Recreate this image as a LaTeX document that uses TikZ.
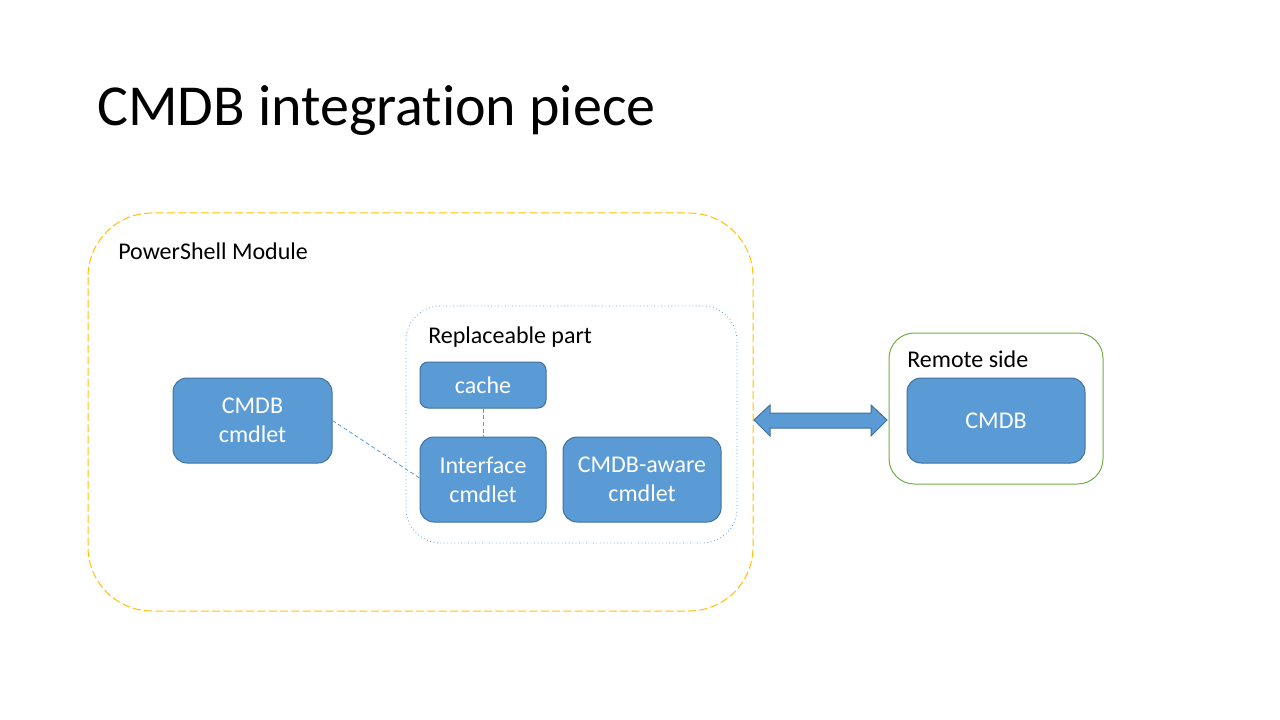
\documentclass[tikz,border=0pt]{standalone}
\usepackage{fontspec}
\setmainfont{Carlito}[Ligatures=NoCommon]
\definecolor{boxblue}{HTML}{5B9BD5}
\definecolor{boxedge}{HTML}{41719C}
\definecolor{gold}{HTML}{FFC000}
\definecolor{leafgreen}{HTML}{70AD47}
\tikzset{
  bluebox/.style={draw=boxedge, fill=boxblue, line width=0.75pt, rounded corners=#1,
    text=white, align=center, inner sep=0pt, font=\fontsize{18pt}{21.6pt}\selectfont},
  bluebox/.default=10.5pt,
  lbl/.style={anchor=base west, inner sep=0pt, font=\fontsize{18pt}{21.6pt}\selectfont},
  link/.style={draw=boxblue, dash pattern=on 3pt off 2pt, line width=0.6pt},
}
\begin{document}
\begin{tikzpicture}[x=0.75pt,y=-0.75pt]
\useasboundingbox (0,0) rectangle (1280,720);
% title
\node[anchor=base west, inner sep=0pt, font=\fontsize{43.5pt}{52pt}\selectfont] (title) at (97,126) {CMDB integration piece};
% outer module
\draw[gold, dash pattern=on 6pt off 2.5pt, line width=0.75pt, rounded corners=48pt] (88,213) rectangle (753,611);
\node[lbl] (mod) at (118,259) {PowerShell Module};
% replaceable part
\draw[boxblue, dotted, line width=0.6pt, rounded corners=26pt] (406,306) rectangle (737,543);
\node[lbl] (repl) at (428,343) {Replaceable part};
% remote side
\draw[leafgreen, line width=0.75pt, rounded corners=19pt] (889,333) rectangle (1103,484);
\node[lbl] (rem) at (907,367) {Remote side};
% blue boxes
\node[bluebox, minimum width=119.25pt, minimum height=63.75pt] (cmdbc) at (252.5,420.5) {CMDB\\cmdlet};
\node[bluebox=6pt, minimum width=94.5pt, minimum height=34.5pt] (cache) at (483,385) {cache};
\node[bluebox, minimum width=94.5pt, minimum height=63.75pt] (iface) at (483,479.5) {Interface\\cmdlet};
\node[bluebox, minimum width=118.5pt, minimum height=63.75pt] (aware) at (642,479.5) {CMDB-aware\\cmdlet};
\node[bluebox, minimum width=133.5pt, minimum height=63.75pt] (cmdb) at (996,420.5) {CMDB};
% connectors
\draw[link] (cmdbc.east) -- (iface.west |- 0,478);
\draw[link] (cache.south) -- (iface.north);
% double arrow
\draw[draw=boxedge, fill=boxblue, line width=0.75pt, line join=miter]
  (754,420) -- (770,405) -- (770,413) -- (871,413) -- (871,405) -- (887,420)
  -- (871,436) -- (871,428) -- (770,428) -- (770,436) -- cycle;
\end{tikzpicture}
\end{document}
